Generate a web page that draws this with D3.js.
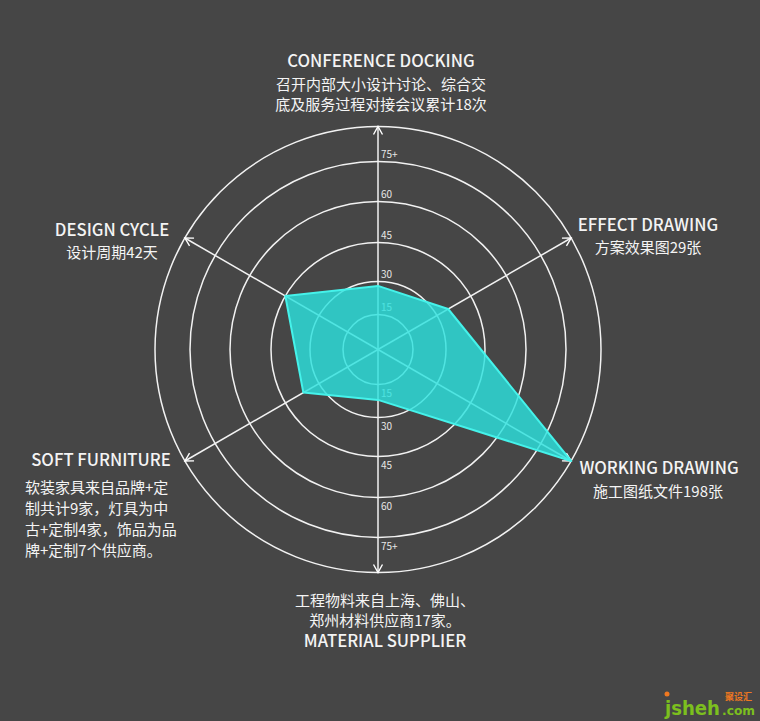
<!DOCTYPE html>
<html>
<head>
<meta charset="utf-8">
<script src="https://cdn.jsdelivr.net/npm/d3@7"></script>
<style>
html,body{margin:0;padding:0;background:#464646;}
svg{display:block;}
</style>
</head>
<body>
<svg id="chart" width="760" height="721"></svg>
<script>
// ---- data ----
const categories = ["CONFERENCE DOCKING","EFFECT DRAWING","WORKING DRAWING","MATERIAL SUPPLIER","SOFT FURNITURE","DESIGN CYCLE"];
const plotValues = [28, 35, 198, 22, 37, 45];   // values as read on the radial scale
const tickValues = [15, 30, 45, 60, 75];
const tickLabels = ["15","30","45","60","75+"];
const gridValues = [15, 30, 45, 60, 75, 90];
const descriptions = [
  ["召开内部大小设计讨论、综合交","底及服务过程对接会议累计18次"],
  ["方案效果图29张"],
  ["施工图纸文件198张"],
  ["工程物料来自上海、佛山、","郑州材料供应商17家。"],
  ["软装家具来自品牌+定","制共计9家，灯具为中","古+定制4家，饰品为品","牌+定制7个供应商。"],
  ["设计周期42天"]
];

const W = 760, H = 721;
const cx = 378, cy = 349.5;
const svg = d3.select("#chart");
svg.append("rect").attr("width",W).attr("height",H).attr("fill","#464646");

const r = d3.scaleLinear()
  .domain([0,15,30,45,60,75,90])
  .range([0,35,68,107,148,188,223])
  .clamp(true);
const angle = d3.scalePoint().domain(d3.range(categories.length)).range([0, 300]);
const rad = i => angle(i) * Math.PI/180;
const pt = (i, v) => [cx + r(v)*Math.sin(rad(i)), cy - r(v)*Math.cos(rad(i))];

const FONT = "'Noto Sans CJK SC','Noto Sans',sans-serif";

const defs = svg.append("defs");
defs.append("marker").attr("id","arrow")
  .attr("viewBox","-10 -6 12 12").attr("refX",0).attr("refY",0)
  .attr("markerWidth",12).attr("markerHeight",12).attr("markerUnits","userSpaceOnUse")
  .attr("orient","auto")
  .append("path").attr("d","M-8,-4.5 L0,0 L-8,4.5").attr("fill","none")
  .attr("stroke","#fff").attr("stroke-width",1.4);

const g = svg.append("g");
// circles
g.selectAll("circle.grid").data(gridValues).join("circle")
  .attr("class","grid").attr("cx",cx).attr("cy",cy).attr("r",d=>r(d))
  .attr("fill","none").attr("stroke","#f2f2f2").attr("stroke-width",1.5);
// axes
g.selectAll("line.axis").data(categories).join("line")
  .attr("class","axis")
  .attr("x1",cx).attr("y1",cy)
  .attr("x2",(d,i)=>pt(i,90)[0]).attr("y2",(d,i)=>pt(i,90)[1])
  .attr("stroke","#f2f2f2").attr("stroke-width",1.5)
  .attr("marker-end","url(#arrow)");
// tick labels (top and bottom)
tickValues.forEach((v,k)=>{
  g.append("text").attr("x",cx+3).attr("y",cy - r(v) - 4)
    .attr("font-family",FONT).attr("font-size",10).attr("fill","#e6e6e6").text(tickLabels[k]);
  g.append("text").attr("x",cx+3).attr("y",cy + r(v) + 12)
    .attr("font-family",FONT).attr("font-size",10).attr("fill","#e6e6e6").text(tickLabels[k]);
});

// polygon
const line = d3.line().curve(d3.curveLinearClosed);
g.append("path").datum(plotValues.map((v,i)=>pt(i,v)))
  .attr("d",line)
  .attr("fill","rgb(44,226,222)").attr("fill-opacity",0.82)
  .attr("stroke","#45f2ea").attr("stroke-width",2).attr("stroke-linejoin","round");

// labels
const T = svg.append("g").attr("font-family",FONT).attr("fill","#f4f4f4");
function title(x,y,t,anchor){
  T.append("text").attr("x",x).attr("y",y).attr("text-anchor",anchor||"middle")
   .attr("font-size",16.7).attr("font-weight",500).text(t);
}
function lines(x,y,arr,anchor,lh){
  arr.forEach((s,k)=>T.append("text").attr("x",x).attr("y",y+k*(lh||19.5))
    .attr("text-anchor",anchor||"middle").attr("font-size",15).attr("font-weight",400).text(s));
}
title(381,67,categories[0]); lines(381,90,descriptions[0]);
title(648,231,categories[1]); lines(648,253,descriptions[1]);
title(659,474,categories[2]); lines(658,497,descriptions[2]);
lines(385,606,descriptions[3]); title(385,647,categories[3]);
title(101,466,categories[4]); lines(25,493,descriptions[4],"start",21);
title(112,236,categories[5]); lines(112,258,descriptions[5]);

// watermark
const wm = svg.append("g").attr("font-family","'DejaVu Sans',sans-serif").attr("font-weight","bold");
wm.append("text").attr("x",665).attr("y",715).attr("font-size",19).attr("fill","#7cbf1e")
  .attr("textLength",55).attr("lengthAdjust","spacingAndGlyphs").text("jsheh");
wm.append("text").attr("x",722).attr("y",715).attr("font-size",13).attr("fill","#7cbf1e")
  .attr("textLength",33).attr("lengthAdjust","spacingAndGlyphs").text(".com");
wm.append("text").attr("x",725).attr("y",700).attr("font-size",9).attr("fill","#f07820").attr("font-family",FONT).text("聚设汇");
wm.append("circle").attr("cx",667).attr("cy",694).attr("r",2.5).attr("fill","#f07820");
</script>
</body>
</html>
